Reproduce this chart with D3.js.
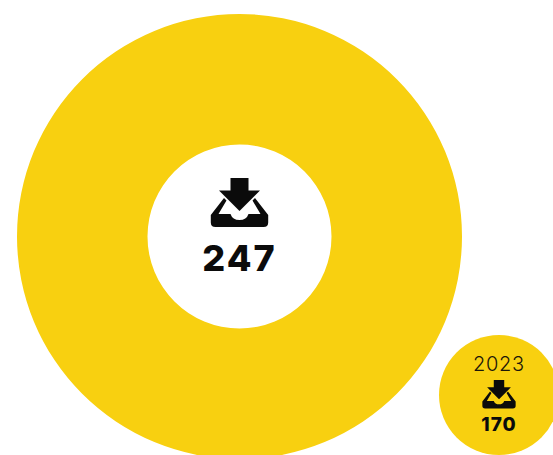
<!DOCTYPE html>
<html>
<head>
<meta charset="utf-8">
<script src="https://cdn.jsdelivr.net/npm/d3@7/dist/d3.min.js"></script>
<style>
html,body{margin:0;padding:0;background:#fff;overflow:hidden}
text{font-family:Inter,"Open Sans",sans-serif;text-anchor:middle}
</style>
</head>
<body>
<svg id="chart" width="553" height="455"></svg>
<script>
// Downloads per year: the current total and the previous year
const values = [247, 170];
const yearLabels = ["", "2023"];
const valueLabels = ["247", "170"];

const width = 553, height = 455;
const yellow = "#f8d010";
const ink = "#0b0b0b";

// Bubble sizes come from the value
const radius = d3.scaleLinear().domain([170, 247]).range([60, 222.5]);
const centre = [[239.5, 236.5], [499, 395]];

const svg = d3.select("#chart");

// Tray with a downward arrow, centred on x = 0, spanning y = 0..49
const iconPath =
  "M-9 0H9V12.5H20.5L0 33L-20.5 12.5H-9Z" +
  "M-15.5 20L-28.7 37V44.5Q-28.7 49 -24 49H24Q28.7 49 28.7 44.5V37L15.5 20L13 22.5L21 36H9" +
  "Q7 42 0 42Q-7 42 -9 36H-21L-13 22.5Z";

const bubbles = svg.selectAll("g.bubble")
  .data(values)
  .join("g")
  .attr("class", "bubble")
  .attr("transform", (d, i) => `translate(${centre[i][0]},${centre[i][1]})`);

bubbles.append("path")
  .attr("fill", yellow)
  .attr("d", (d, i) => d3.arc()({
    innerRadius: i === 0 ? 92 : 0,
    outerRadius: radius(d),
    startAngle: 0,
    endAngle: 2 * Math.PI
  }));

const iconPlacement = [
  {y: -58.5, k: 1},
  {y: -15, k: 0.58}
];
bubbles.append("path")
  .attr("d", iconPath)
  .attr("fill", ink)
  .attr("transform", (d, i) => `translate(0,${iconPlacement[i].y}) scale(${iconPlacement[i].k})`);

bubbles.append("text")
  .attr("y", (d, i) => i === 0 ? 34.5 : 36)
  .attr("font-size", (d, i) => i === 0 ? 36 : 19)
  .attr("font-weight", 800)
  .attr("letter-spacing", (d, i) => i === 0 ? 2 : 1)
  .attr("fill", ink)
  .text((d, i) => valueLabels[i]);

bubbles.append("text")
  .attr("y", -24.5)
  .attr("font-size", 20)
  .attr("font-weight", 300)
  .attr("letter-spacing", 0.7)
  .attr("fill", "#1c1608")
  .text((d, i) => yearLabels[i]);
</script>
</body>
</html>
